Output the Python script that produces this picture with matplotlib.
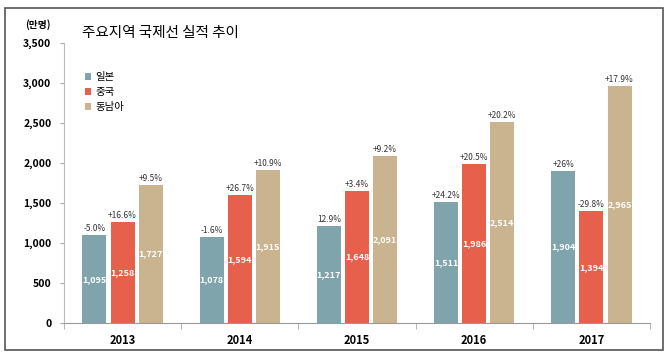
import numpy as np
import matplotlib.pyplot as plt
from matplotlib.patches import Rectangle

plt.rcParams['font.family'] = ['Noto Sans CJK KR', 'DejaVu Sans']

years = ['2013', '2014', '2015', '2016', '2017']
series = ['일본', '중국', '동남아']
japan = [1095, 1078, 1217, 1511, 1904]
china = [1258, 1594, 1648, 1986, 1394]
asean = [1727, 1915, 2091, 2514, 2965]
japan_g = ['-5.0%', '-1.6%', '12.9%', '+24.2%', '+26%']
china_g = ['+16.6%', '+26.7%', '+3.4%', '+20.5%', '-29.8%']
asean_g = ['+9.5%', '+10.9%', '+9.2%', '+20.2%', '+17.9%']
colors = ['#7fa4ab', '#e6604c', '#c9b48f']

fig = plt.figure(figsize=(6.7, 3.58), dpi=100)
# outer frame
fig.patches.append(Rectangle((5/670, 8/358), 658/670, 342/358, transform=fig.transFigure,
                             fill=False, edgecolor='#555555', linewidth=1.2))
ax = fig.add_axes([64/670, 35/358, 586/670, 280/358])

x = np.arange(len(years))
w = 0.205
off = 0.24
for i, (vals, gr) in enumerate([(japan, japan_g), (china, china_g), (asean, asean_g)]):
    pos = x + (i - 1) * off
    ax.bar(pos, vals, width=w, color=colors[i], label=series[i], zorder=2)
    for p, v, g in zip(pos, vals, gr):
        ax.text(p, v + 25, g, ha='center', va='bottom', fontsize=6, color='#333333')
        ax.text(p, v / 2, f'{v:,}', ha='center', va='center', fontsize=6.5,
                color='white', fontweight='bold')

ax.set_xlim(-0.5, 4.5)
ax.set_ylim(0, 3500)
ax.set_yticks(range(0, 3501, 500))
ax.set_yticklabels([f'{v:,}' for v in range(0, 3501, 500)], fontsize=7.5, fontweight='bold')
ax.set_xticks(x)
ax.set_xticklabels(years, fontsize=8, fontweight='bold')
ax.set_xticks(np.arange(-0.5, 4.6, 1), minor=True)
ax.tick_params(axis='x', which='major', length=0, pad=8)
ax.tick_params(axis='x', which='minor', length=4, color='#aaaaaa')
ax.tick_params(axis='y', length=3, color='#aaaaaa', pad=6)
for s in ['top', 'right']:
    ax.spines[s].set_visible(False)
ax.spines['left'].set_color('#bbbbbb')
ax.spines['bottom'].set_color('#999999')

fig.text(25/670, 1 - 25/358, '(만명)', fontsize=7, fontweight='bold', va='center')
fig.text(82/670, 1 - 33/358, '주요지역 국제선 실적 추이', fontsize=10.5, fontweight='medium',
         va='center')

ax.legend(loc='upper left', bbox_to_anchor=(0.02, 0.93), frameon=False,
          fontsize=7.5, handlelength=0.6, handleheight=0.6, labelspacing=0.5,
          handletextpad=0.4)

fig.savefig('out.png', dpi=100)
